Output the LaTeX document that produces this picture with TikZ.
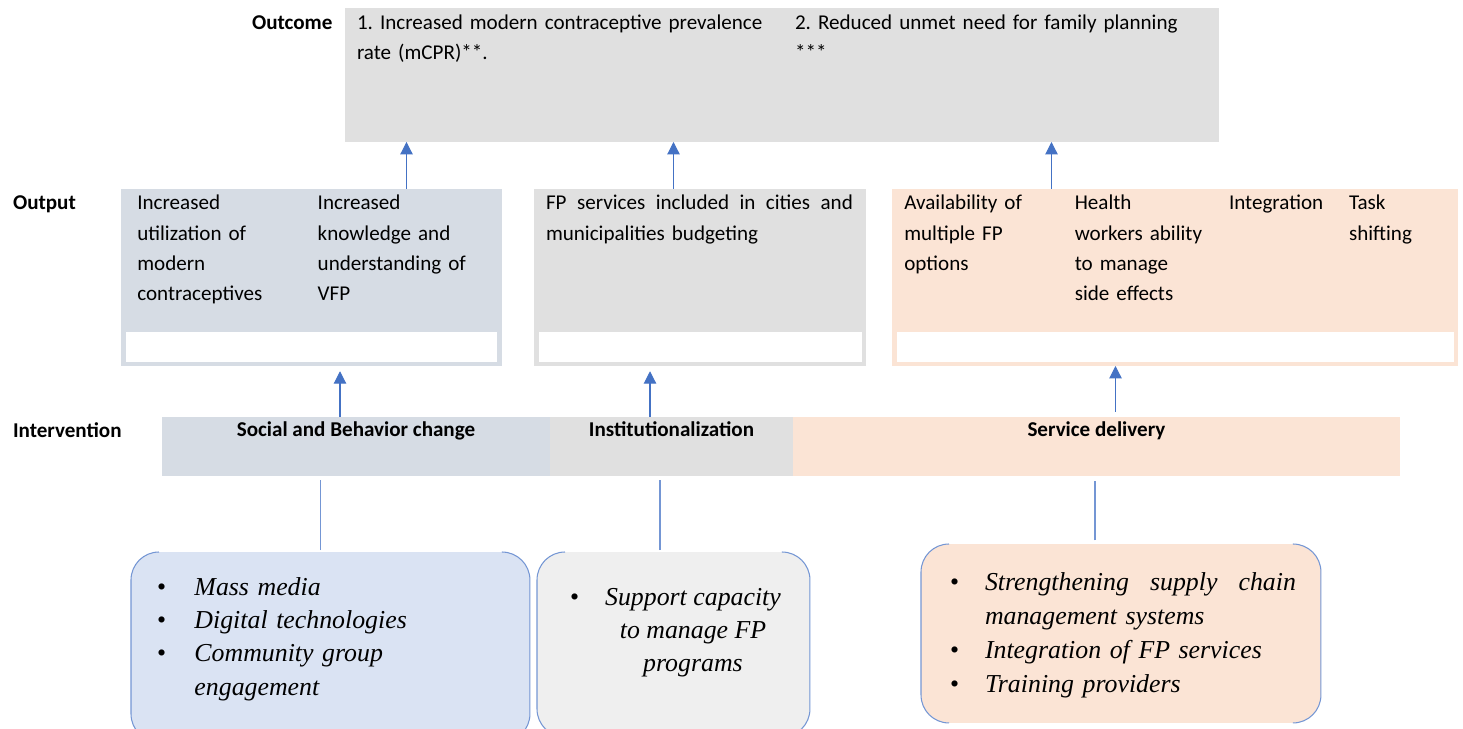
\documentclass[tikz,border=0pt]{standalone}
\usepackage{fontspec}
\setmainfont{Carlito}
\newfontfamily\tnr{Liberation Serif}
\usetikzlibrary{arrows.meta, positioning}

\definecolor{boxgray}{HTML}{E0E0E0}
\definecolor{boxslate}{HTML}{D6DCE4}
\definecolor{boxpeach}{HTML}{FBE4D5}
\definecolor{boxsky}{HTML}{DAE3F3}
\definecolor{boxpale}{HTML}{EFEFEF}
\definecolor{linkblue}{HTML}{4472C4}
\definecolor{rimblue}{HTML}{7496D4}

\frenchspacing
\newcommand{\bodysize}{\fontsize{12pt}{17.2pt}\selectfont}
\newcommand{\bitem}[2]{\noindent\hangindent=#1\hangafter=1\makebox[#1][l]{\upshape\textbullet}#2\par}

\begin{document}
\begin{tikzpicture}[
            x=0.02cm, y=-0.02cm,
            every node/.style={inner sep=0pt, outer sep=0pt, font=\bodysize},
            band/.style={anchor=north west, draw=none},
            strip/.style={anchor=north west, fill=white},
            lbl/.style={anchor=base west, font=\bodysize\bfseries},
            txt/.style={anchor=base west, align=left, text width=#1},
            hdr/.style={band, font=\bodysize\bfseries, text height=9pt, text depth=20pt},
            bul/.style={anchor=base west, align=left, font=\tnr\itshape\fontsize{14.7pt}{#1}\selectfont},
            arr/.style={-{Triangle[length=7pt,width=7pt]}, draw=linkblue, line width=0.6pt},
            rim/.style={draw=rimblue, line width=0.6pt}
        ]
        \useasboundingbox (0,0) rectangle (1463,729);
        \clip (0,0) rectangle (1463,729);

        % Outcome
        \node[band, fill=boxgray, minimum width=17.48cm, minimum height=2.68cm] (outcome) at (345,8) {};
        \node[lbl] (outcomelbl) at (252,29.3) {Outcome};
        \node[txt=8.5cm] (oc1) at (357,29.3) {1. Increased modern contraceptive prevalence\\ rate (mCPR)**.};
        \node[txt=8.5cm] (oc2) at (795,29.3) {2. Reduced unmet need for family planning\\ {}***};

        % Output
        \node[lbl] (outputlbl) at (13,210) {Output};
        \node[band, fill=boxslate, minimum width=7.62cm, minimum height=3.54cm] (o1) at (121,189) {};
        \node[band, fill=boxgray, minimum width=6.64cm, minimum height=3.54cm] (o2) at (534,189) {};
        \node[band, fill=boxpeach, minimum width=11.32cm, minimum height=3.54cm] (o3) at (892,189) {};
        \node[strip, minimum width=7.42cm, minimum height=0.6cm] (s1) at (126,332) {};
        \node[strip, minimum width=6.46cm, minimum height=0.6cm] (s2) at (539,332) {};
        \node[strip, minimum width=11.14cm, minimum height=0.6cm] (s3) at (897,332) {};
        \node[txt=3.4cm] (u1) at (137.3,210) {Increased\\ utilization of\\ modern\\ contraceptives};
        \node[txt=3.6cm] (u2) at (317.7,210) {Increased\\ knowledge and\\ understanding of\\ VFP};
        \node[txt=6.14cm] (u3) at (546,210) {\hbox to 6.14cm{FP\hfill services\hfill included\hfill in\hfill cities\hfill and}\\ municipalities budgeting};
        \node[txt=3.2cm] (u4) at (904.3,210) {Availability of\\ multiple FP\\ options};
        \node[txt=3cm] (u5) at (1074.8,210) {Health\\ workers ability\\ to manage\\ side effects};
        \node[txt=2.2cm] (u6) at (1229,210) {Integration};
        \node[txt=2cm] (u7) at (1349,210) {Task\\ shifting};

        % Intervention
        \node[lbl] (intlbl) at (13,437) {Intervention};
        \node[hdr, fill=boxslate, minimum width=7.76cm, minimum height=1.18cm] (sbc) at (162,417) {Social and Behavior change};
        \node[hdr, fill=boxgray, minimum width=4.86cm, minimum height=1.18cm] (inst) at (550,417) {Institutionalization};
        \node[hdr, fill=boxpeach, minimum width=12.14cm, minimum height=1.18cm] (serv) at (793,417) {Service delivery};

        % Activities
        \node[band, fill=boxsky, rounded corners=0.56cm, minimum width=7.98cm, minimum height=3.8cm] (act1) at (131,552) {};
        \node[band, fill=boxpale, rounded corners=0.56cm, minimum width=5.46cm, minimum height=3.7cm] (act2) at (537,552) {};
        \node[band, fill=boxpeach, rounded corners=0.56cm, minimum width=8cm, minimum height=3.58cm] (act3) at (921,544) {};
        \foreach \b in {act1,act2,act3} {
            \draw[rim, rounded corners=0.56cm] ([xshift=0.56cm]\b.north west) -- (\b.north west) -- (\b.south west) -- ([xshift=0.56cm]\b.south west);
            \draw[rim, rounded corners=0.56cm] ([xshift=-0.56cm]\b.north east) -- (\b.north east) -- (\b.south east) -- ([xshift=-0.56cm]\b.south east);
        }
        \node[bul=19pt, text width=7.2cm] (t1) at (157,595) {\bitem{0.75cm}{Mass media}\bitem{0.75cm}{Digital technologies}\bitem{0.75cm}{Community group\newline engagement}};
        \node[bul=19pt] (t2) at (570,605) {\makebox[0.56cm][l]{\upshape\textbullet}\parbox[t]{3.8cm}{\centering Support capacity\\ to manage FP\\ programs}};
        \node[bul=19.5pt, text width=7.3cm] (t3) at (950,590) {\bitem{0.7cm}{\hbox to 6.22cm{Strengthening\hfill supply\hfill chain}\newline management systems}\bitem{0.7cm}{Integration of FP services}\bitem{0.7cm}{Training providers}};

        % Arrows
        \coordinate (a1) at (406.5,0);
        \coordinate (a2) at (673.5,0);
        \coordinate (a3) at (1051.5,0);
        \coordinate (b1) at (340,0);
        \coordinate (b2) at (650,0);
        \coordinate (b3) at (1115.5,0);
        \coordinate (d1) at (320.5,0);
        \coordinate (d2) at (660,0);
        \coordinate (d3) at (1095,0);
        \draw[arr] (o1.north -| a1) -- (outcome.south -| a1);
        \draw[arr] (o2.north -| a2) -- (outcome.south -| a2);
        \draw[arr] (o3.north -| a3) -- (outcome.south -| a3);
        \draw[arr, shorten >=3pt] (sbc.north -| b1) -- (o1.south -| b1);
        \draw[arr, shorten >=3pt] (inst.north -| b2) -- (o2.south -| b2);
        \draw[arr, shorten <=3pt] (serv.north -| b3) -- (o3.south -| b3);
        \draw[rim, shorten <=1pt, shorten >=2.3pt] (act1.north -| d1) -- (sbc.south -| d1);
        \draw[rim, shorten <=1pt, shorten >=2.3pt] (act2.north -| d2) -- (inst.south -| d2);
        \draw[rim, shorten <=2pt, shorten >=3pt] (act3.north -| d3) -- (serv.south -| d3);

\end{tikzpicture}
\end{document}
